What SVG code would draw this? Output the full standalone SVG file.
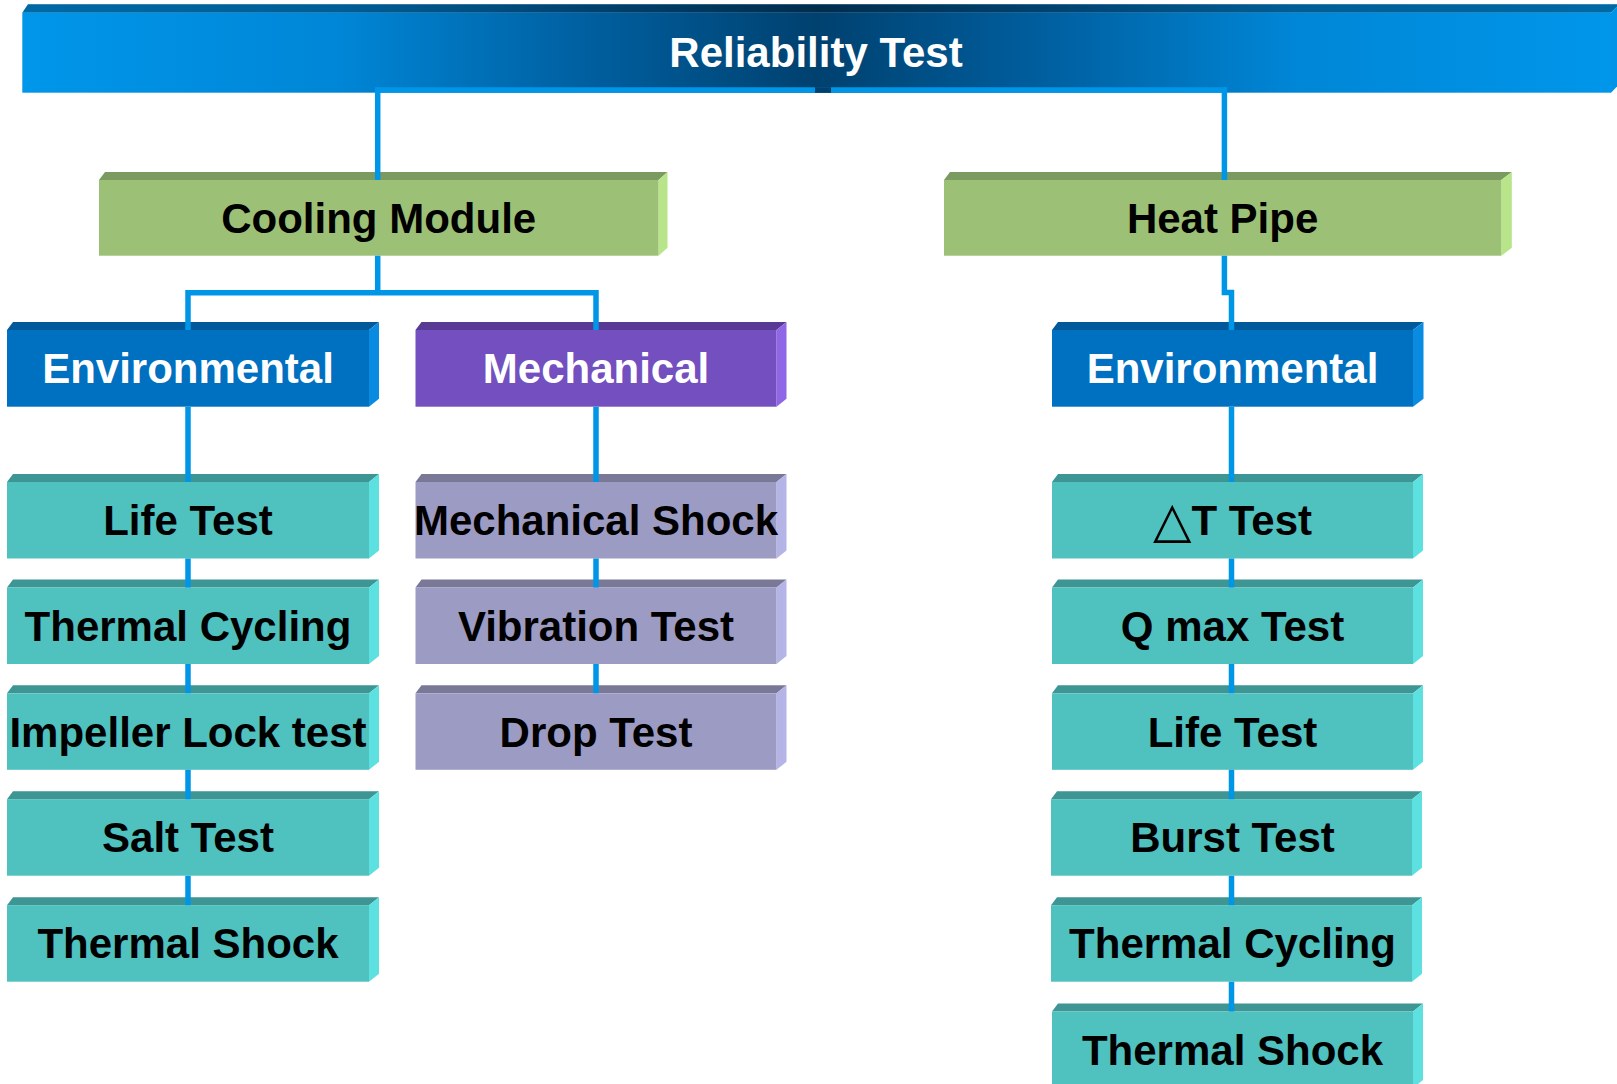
<svg xmlns="http://www.w3.org/2000/svg" width="1617" height="1084" viewBox="0 0 1617 1084">
<defs>
<linearGradient id="barGrad" gradientUnits="userSpaceOnUse" x1="22" y1="0" x2="1611" y2="0">
<stop offset="0" stop-color="#0096EA"/>
<stop offset="0.2" stop-color="#0086D6"/>
<stop offset="0.36" stop-color="#005E9E"/>
<stop offset="0.5" stop-color="#00416F"/>
<stop offset="0.64" stop-color="#005E9E"/>
<stop offset="0.8" stop-color="#0086D6"/>
<stop offset="1" stop-color="#0096EA"/>
</linearGradient>
<style>
text{font-family:"Liberation Sans",Arial,"DejaVu Sans",sans-serif;font-weight:bold;font-size:42px;text-anchor:middle}
.dark text{fill:#000}
.light text{fill:#fff}
.root .face,.root .top{fill:url(#barGrad)}
.root .shade{fill:#000;opacity:0.3}
.root .side{fill:#0094E8}
.green .face{fill:#9CC176}
.green .top{fill:#7B9A5F}
.green .side{fill:#B8E48A}
.blue .face{fill:#0070C0}
.blue .top{fill:#00599A}
.blue .side{fill:#0A8BE2}
.purple .face{fill:#734FBF}
.purple .top{fill:#583A95}
.purple .side{fill:#8F66E6}
.teal .face{fill:#4FC1BF}
.teal .top{fill:#3D9594}
.teal .side{fill:#5CE0E0}
.lav .face{fill:#9C9BC3}
.lav .top{fill:#7A7897}
.lav .side{fill:#B5B4E6}
.conn{fill:none;stroke:#0096E8;stroke-width:5.5}
.tri{font-weight:normal;font-family:"DejaVu Sans",sans-serif}
</style>
</defs>
<rect width="1617" height="1084" fill="#fff"/>

<g id="n-root" class="root light">
<polygon class="top" points="22.3,12.7 28,4.3 1619,4.3 1611,12.7"/>
<polygon class="shade" points="22.3,12.7 28,4.3 1619,4.3 1611,12.7"/>
<polygon class="side" points="1611,12.7 1619,4.3 1619,84.3 1611,92.7"/>
<rect class="face" x="22.3" y="12.7" width="1588.7" height="80"/>
<text x="816" y="67">Reliability Test</text>
</g>

<g id="n-cooling" class="green dark" transform="translate(99,180)">
<polygon class="top" points="0,0 6,-8 568.5,-8 559.5,0"/>
<polygon class="side" points="559.5,0 568.5,-8 568.5,67.7 559.5,75.7"/>
<rect class="face" width="559.5" height="75.7"/>
<text x="279.7" y="53.3">Cooling Module</text>
</g>

<g id="n-heatpipe" class="green dark" transform="translate(944,180)">
<polygon class="top" points="0,0 6,-8 567.8,-8 557.3,0"/>
<polygon class="side" points="557.3,0 567.8,-8 567.8,67.7 557.3,75.7"/>
<rect class="face" width="557.3" height="75.7"/>
<text x="278.6" y="53.3">Heat Pipe</text>
</g>

<g id="n-env-cm" class="blue light" transform="translate(7,330)">
<polygon class="top" points="0,0 6,-8 372,-8 362,0"/>
<polygon class="side" points="362,0 372,-8 372,68.7 362,76.7"/>
<rect class="face" width="362" height="76.7"/>
<text x="181" y="53.3">Environmental</text>
</g>

<g id="n-mech" class="purple light" transform="translate(415.5,330)">
<polygon class="top" points="0,0 6,-8 371,-8 361,0"/>
<polygon class="side" points="361,0 371,-8 371,68.7 361,76.7"/>
<rect class="face" width="361" height="76.7"/>
<text x="180.5" y="53.3">Mechanical</text>
</g>

<g id="n-env-hp" class="blue light" transform="translate(1052,330)">
<polygon class="top" points="0,0 6,-8 371.5,-8 361,0"/>
<polygon class="side" points="361,0 371.5,-8 371.5,68.7 361,76.7"/>
<rect class="face" width="361" height="76.7"/>
<text x="180.5" y="53.3">Environmental</text>
</g>

<!-- Cooling module environmental column -->
<g id="n-cm-life" class="teal dark" transform="translate(7,482)">
<polygon class="top" points="0,0 6,-8 372,-8 362,0"/><polygon class="side" points="362,0 372,-8 372,68.5 362,76.5"/><rect class="face" width="362" height="76.5"/>
<text x="181" y="53.3">Life Test</text>
</g>
<g id="n-cm-thermalcycling" class="teal dark" transform="translate(7,587.5)">
<polygon class="top" points="0,0 6,-8 372,-8 362,0"/><polygon class="side" points="362,0 372,-8 372,68.5 362,76.5"/><rect class="face" width="362" height="76.5"/>
<text x="181" y="53.3">Thermal Cycling</text>
</g>
<g id="n-cm-impeller" class="teal dark" transform="translate(7,693.3)">
<polygon class="top" points="0,0 6,-8 372,-8 362,0"/><polygon class="side" points="362,0 372,-8 372,68.5 362,76.5"/><rect class="face" width="362" height="76.5"/>
<text x="181" y="53.3">Impeller Lock test</text>
</g>
<g id="n-cm-salt" class="teal dark" transform="translate(7,799.2)">
<polygon class="top" points="0,0 6,-8 372,-8 362,0"/><polygon class="side" points="362,0 372,-8 372,68.5 362,76.5"/><rect class="face" width="362" height="76.5"/>
<text x="181" y="53.3">Salt Test</text>
</g>
<g id="n-cm-thermalshock" class="teal dark" transform="translate(7,905.2)">
<polygon class="top" points="0,0 6,-8 372,-8 362,0"/><polygon class="side" points="362,0 372,-8 372,68.5 362,76.5"/><rect class="face" width="362" height="76.5"/>
<text x="181" y="53.3">Thermal Shock</text>
</g>

<!-- Mechanical column -->
<g id="n-mech-shock" class="lav dark" transform="translate(415.5,482)">
<polygon class="top" points="0,0 6,-8 371,-8 361,0"/><polygon class="side" points="361,0 371,-8 371,68.5 361,76.5"/><rect class="face" width="361" height="76.5"/>
<text x="180.5" y="53.3">Mechanical Shock</text>
</g>
<g id="n-mech-vibration" class="lav dark" transform="translate(415.5,587.5)">
<polygon class="top" points="0,0 6,-8 371,-8 361,0"/><polygon class="side" points="361,0 371,-8 371,68.5 361,76.5"/><rect class="face" width="361" height="76.5"/>
<text x="180.5" y="53.3">Vibration Test</text>
</g>
<g id="n-mech-drop" class="lav dark" transform="translate(415.5,693.3)">
<polygon class="top" points="0,0 6,-8 371,-8 361,0"/><polygon class="side" points="361,0 371,-8 371,68.5 361,76.5"/><rect class="face" width="361" height="76.5"/>
<text x="180.5" y="53.3">Drop Test</text>
</g>

<!-- Heat pipe environmental column -->
<g id="n-hp-dt" class="teal dark" transform="translate(1052,482)">
<polygon class="top" points="0,0 6,-8 371,-8 361,0"/><polygon class="side" points="361,0 371,-8 371,68.5 361,76.5"/><rect class="face" width="361" height="76.5"/>
<text x="180.5" y="55"><tspan class="tri" font-size="50">△</tspan><tspan dy="-1.7">T Test</tspan></text>
</g>
<g id="n-hp-qmax" class="teal dark" transform="translate(1052,587.5)">
<polygon class="top" points="0,0 6,-8 371,-8 361,0"/><polygon class="side" points="361,0 371,-8 371,68.5 361,76.5"/><rect class="face" width="361" height="76.5"/>
<text x="180.5" y="53.3">Q max Test</text>
</g>
<g id="n-hp-life" class="teal dark" transform="translate(1052,693.3)">
<polygon class="top" points="0,0 6,-8 371,-8 361,0"/><polygon class="side" points="361,0 371,-8 371,68.5 361,76.5"/><rect class="face" width="361" height="76.5"/>
<text x="180.5" y="53.3">Life Test</text>
</g>
<g id="n-hp-burst" class="teal dark" transform="translate(1051,799.2)">
<polygon class="top" points="0,0 6,-8 371,-8 361,0"/><polygon class="side" points="361,0 371,-8 371,68.5 361,76.5"/><rect class="face" width="361" height="76.5"/>
<text x="181.5" y="53.3">Burst Test</text>
</g>
<g id="n-hp-thermalcycling" class="teal dark" transform="translate(1051,905.2)">
<polygon class="top" points="0,0 6,-8 371,-8 361,0"/><polygon class="side" points="361,0 371,-8 371,68.5 361,76.5"/><rect class="face" width="361" height="76.5"/>
<text x="181.5" y="53.3">Thermal Cycling</text>
</g>
<g id="n-hp-thermalshock" class="teal dark" transform="translate(1052,1011.5)">
<polygon class="top" points="0,0 6,-8 371,-8 361,0"/><polygon class="side" points="361,0 371,-8 371,68.5 361,76.5"/><rect class="face" width="361" height="76.5"/>
<text x="180.5" y="53.3">Thermal Shock</text>
</g>

<g id="connectors">
<path class="conn" d="M375,90 H1227"/>
<rect x="815" y="87.2" width="16" height="5.6" fill="#00406C"/>
<path class="conn" d="M377.7,87.3 V180"/>
<path class="conn" d="M1224.4,87.3 V180"/>
<path class="conn" d="M377.7,255.7 V292.7 M188,292.7 H596 M188,290 V330 M596,290 V330"/>
<path class="conn" d="M1224.4,255.7 V292.5 H1231.5 V330"/>
<path class="conn" d="M188,406.7 V482 M188,558.5 V587.5 M188,664 V693.3 M188,769.8 V799.2 M188,875.7 V905.2"/>
<path class="conn" d="M596,406.7 V482 M596,558.5 V587.5 M596,664 V693.3"/>
<path class="conn" d="M1231.5,406.7 V482 M1231.5,558.5 V587.5 M1231.5,664 V693.3 M1231.5,769.8 V799.2 M1231.5,875.7 V905.2 M1231.5,981.7 V1011.5"/>
</g>
</svg>
